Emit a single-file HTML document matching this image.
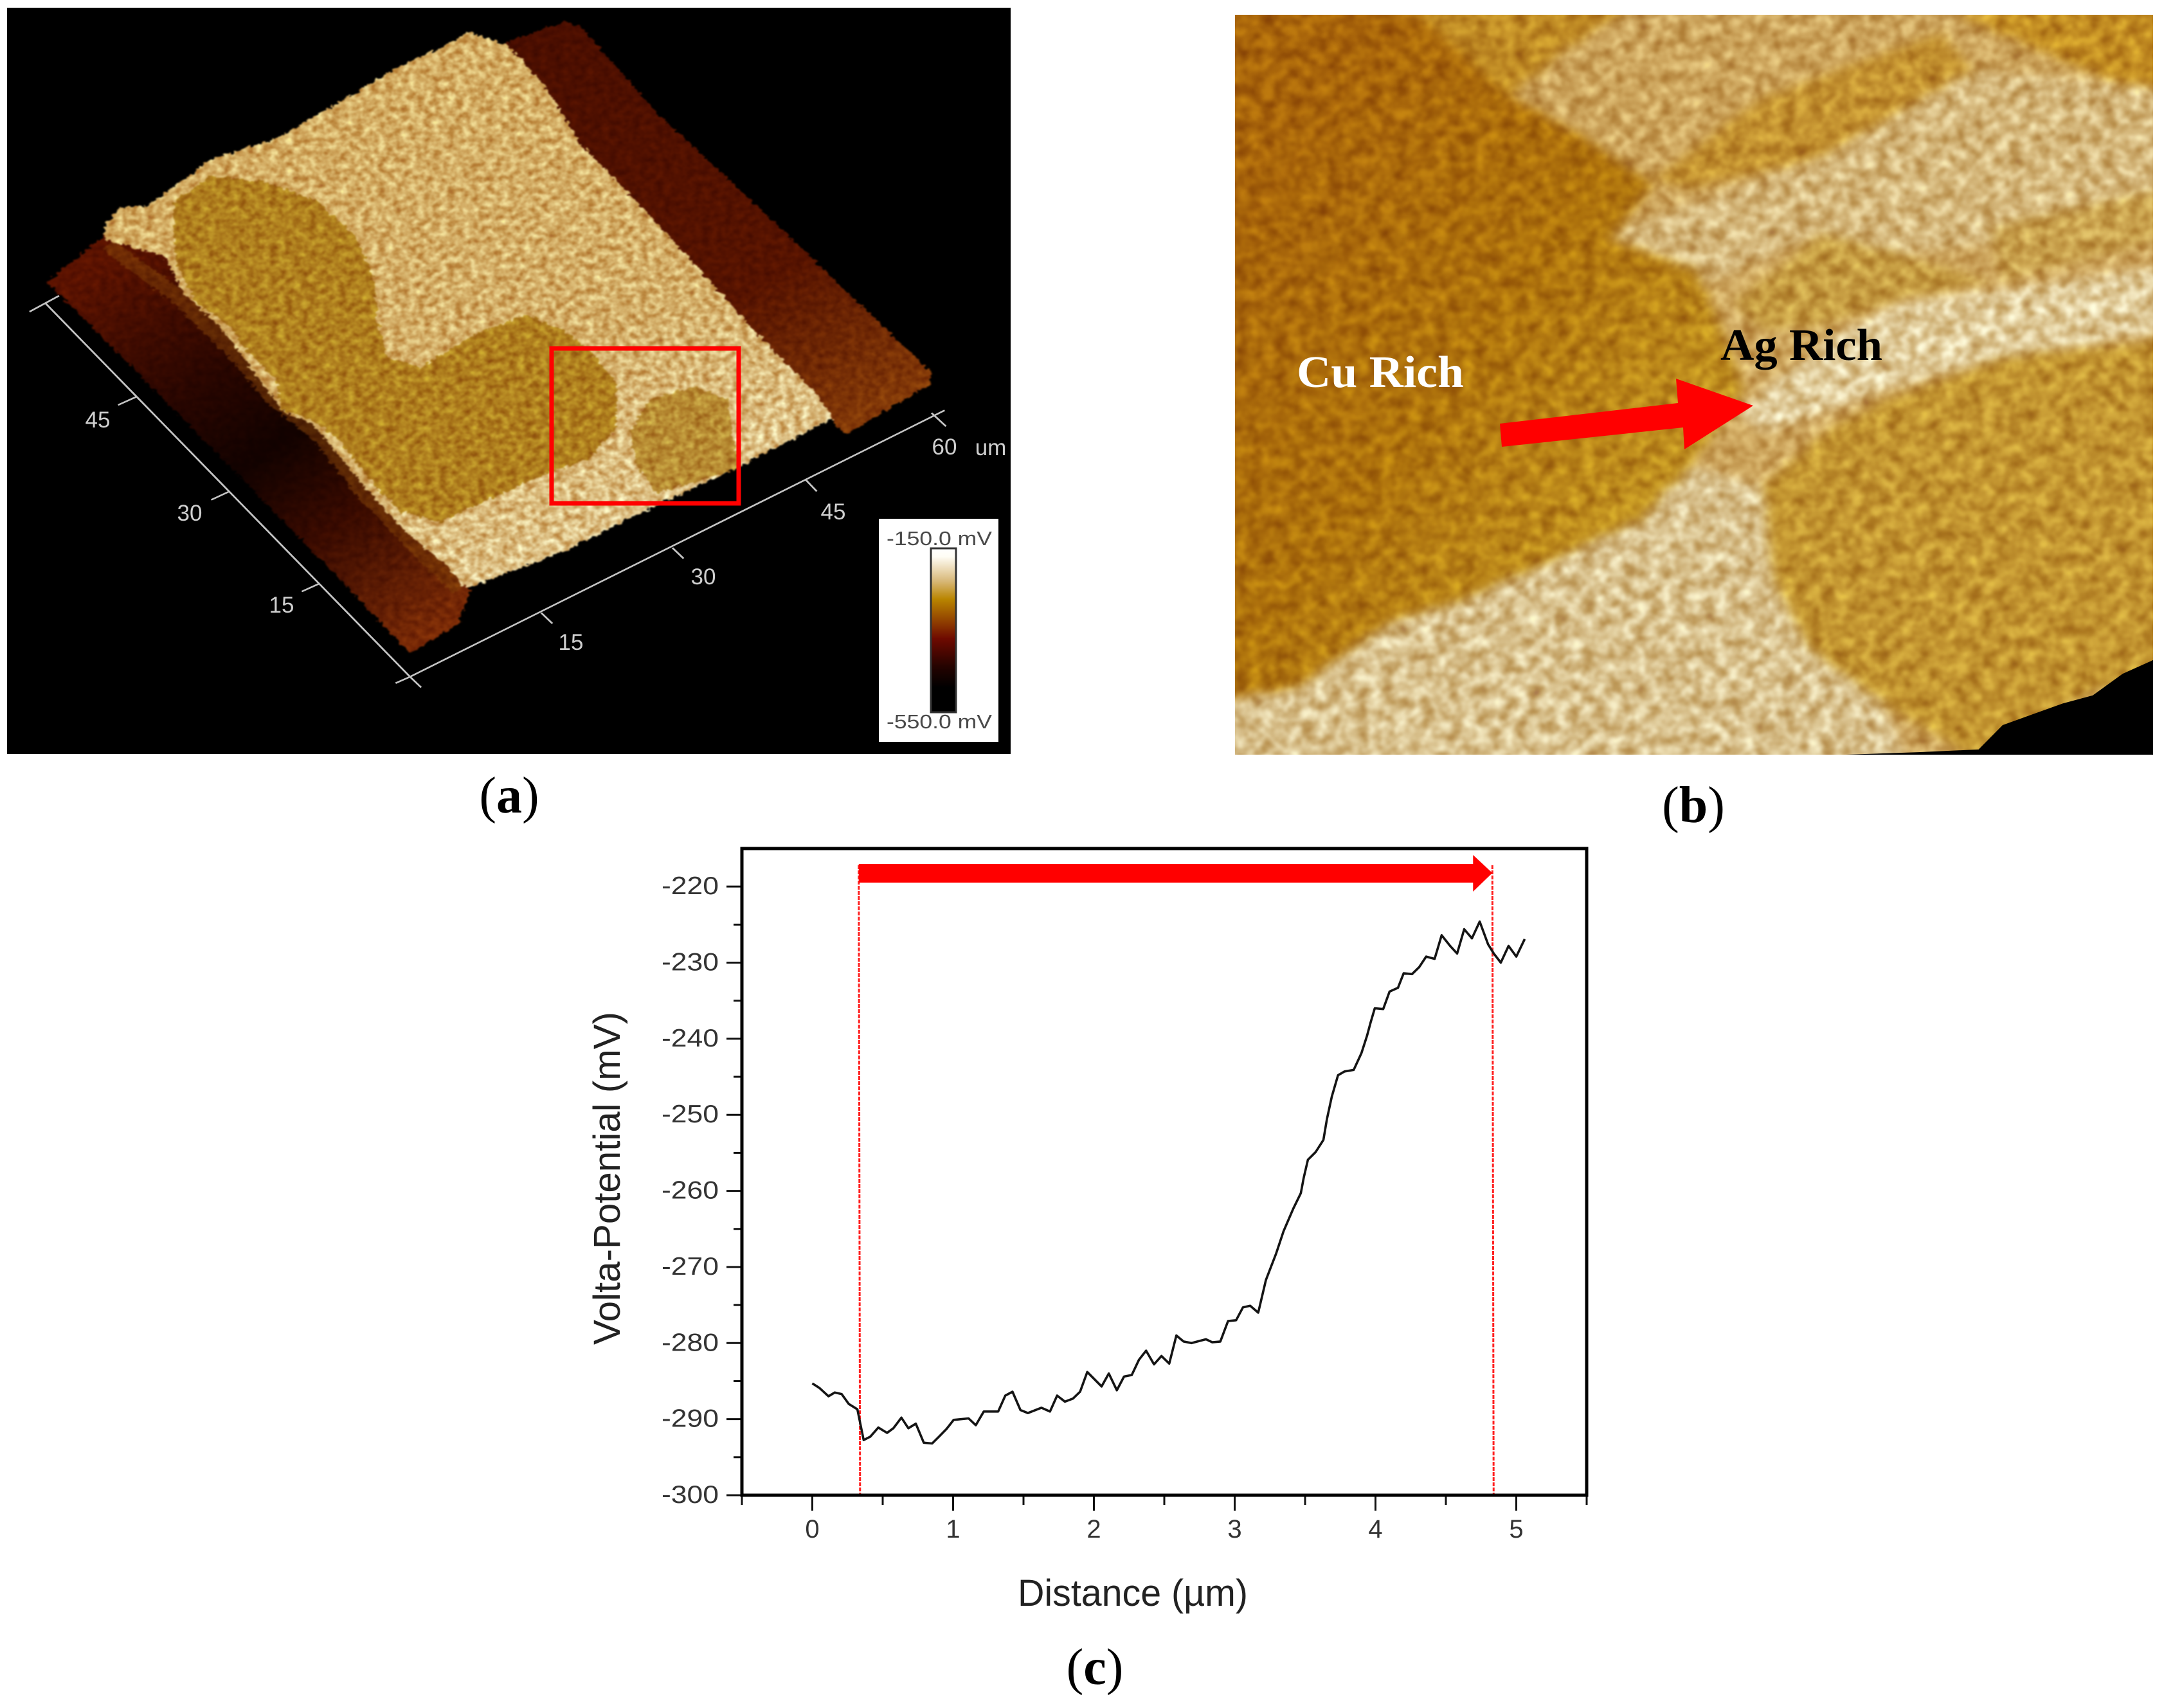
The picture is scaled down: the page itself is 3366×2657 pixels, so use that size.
<!DOCTYPE html>
<html lang="en">
<head>
<meta charset="utf-8">
<title>Volta potential map and line profile</title>
<style>
html,body{margin:0;padding:0;background:#fff;}
#figure{display:block;width:3366px;height:2657px;}
</style>
</head>
<body>
<svg id="figure" xmlns="http://www.w3.org/2000/svg" width="3366" height="2657" viewBox="0 0 3366 2657">
<defs>
<filter id="grain-a" filterUnits="userSpaceOnUse" x="-20" y="-20" width="1640" height="1520" color-interpolation-filters="sRGB">
<feTurbulence type="fractalNoise" baseFrequency="0.14" numOctaves="2" seed="5" result="edge"/>
<feDisplacementMap in="SourceGraphic" in2="edge" scale="13" xChannelSelector="R" yChannelSelector="G" result="d"/>
<feTurbulence type="fractalNoise" baseFrequency="0.085" numOctaves="3" seed="4" result="t"/>
<feColorMatrix in="t" type="matrix" values="0.5 0 0 0 0.25 1 0 0 0 0 1.8 0 0 0 -0.4 0 0 0 0 1" result="n"/>
<feComposite in="d" in2="n" operator="arithmetic" k1="1.05" k2="0.48" k3="0" k4="0" result="c"/>
<feGaussianBlur in="c" stdDeviation="1.4"/>
</filter>
<filter id="grain-b" filterUnits="userSpaceOnUse" x="-20" y="-20" width="1640" height="1700" color-interpolation-filters="sRGB">
<feTurbulence type="fractalNoise" baseFrequency="0.07" numOctaves="2" seed="12" result="edge"/>
<feDisplacementMap in="SourceGraphic" in2="edge" scale="18" xChannelSelector="R" yChannelSelector="G" result="d"/>
<feGaussianBlur in="d" stdDeviation="9" result="soft"/>
<feTurbulence type="fractalNoise" baseFrequency="0.045" numOctaves="3" seed="9" result="t"/>
<feColorMatrix in="t" type="matrix" values="0.6 0 0 0 0.2 1 0 0 0 0 1.8 0 0 0 -0.4 0 0 0 0 1" result="n"/>
<feComposite in="soft" in2="n" operator="arithmetic" k1="0.9" k2="0.55" k3="0" k4="0" result="c"/>
<feGaussianBlur in="c" stdDeviation="2.5"/>
</filter>
<linearGradient id="cliff-fill" gradientUnits="userSpaceOnUse" x1="100" y1="550" x2="650" y2="1200">
<stop offset="0" stop-color="#5a1200"/><stop offset="0.3" stop-color="#2a0600"/><stop offset="0.5" stop-color="#120200"/><stop offset="0.7" stop-color="#380a00"/><stop offset="1" stop-color="#7a2a06"/>
</linearGradient>
<linearGradient id="strip-fill" gradientUnits="userSpaceOnUse" x1="820" y1="70" x2="1340" y2="780">
<stop offset="0" stop-color="#4a0e00"/><stop offset="0.65" stop-color="#561300"/><stop offset="1" stop-color="#843a08"/>
</linearGradient>
<linearGradient id="surface-fill" gradientUnits="userSpaceOnUse" x1="500" y1="150" x2="1000" y2="1050">
<stop offset="0" stop-color="#d2ab62"/><stop offset="0.6" stop-color="#d2ad68"/><stop offset="1" stop-color="#dfc58e"/>
</linearGradient>
<linearGradient id="colorbar-fill" x1="0" y1="0" x2="0" y2="1">
<stop offset="0" stop-color="#ffffff"/><stop offset="0.05" stop-color="#fffdf5"/><stop offset="0.2" stop-color="#d8b878"/><stop offset="0.31" stop-color="#b98500"/><stop offset="0.45" stop-color="#8f3d00"/><stop offset="0.55" stop-color="#6f0a00"/><stop offset="0.72" stop-color="#250300"/><stop offset="0.85" stop-color="#000"/><stop offset="1" stop-color="#000"/>
</linearGradient>
<linearGradient id="cu-b-fill" gradientUnits="userSpaceOnUse" x1="60" y1="300" x2="800" y2="800">
<stop offset="0" stop-color="#a8640a"/><stop offset="0.55" stop-color="#ae720c"/><stop offset="1" stop-color="#c09020"/>
</linearGradient>
<clipPath id="panel-a-clip"><rect x="11" y="12" width="1561" height="1161"/></clipPath>
<clipPath id="panel-b-clip"><rect x="1921" y="23" width="1428" height="1151"/></clipPath>
</defs>

<rect width="3366" height="2657" fill="#ffffff"/>

<g clip-path="url(#panel-a-clip)">
<rect x="11" y="12" width="1561" height="1161" fill="#000"/>
<g transform="scale(1.0204,0.829)">
<g filter="url(#grain-a)">
<polygon fill="url(#strip-fill)" points="760,85 860,40 885,50 1000,210 1200,440 1420,700 1418,720 1290,815 1265,785 1235,740 1140,620 1000,430 875,270 820,160"/>
<polygon fill="url(#cliff-fill)" points="72,530 160,440 300,500 450,700 620,950 720,1090 700,1170 625,1225 450,1000 250,750"/>
<polyline fill="none" stroke="#7a3a06" stroke-width="26" opacity="0.6" points="165,460 270,555 350,650 420,750 490,820 560,930 630,1020 700,1105"/>
<polygon fill="url(#surface-fill)" points="160,420 185,390 225,385 320,300 420,260 520,190 600,130 670,90 715,60 775,85 830,160 885,270 1010,430 1150,620 1245,740 1270,785 1120,880 980,960 860,1035 710,1105 680,1060 620,1000 560,920 480,800 430,770 400,720 340,620 280,550 250,480 160,450"/>
<polygon fill="#ae7e1e" points="265,380 320,330 400,340 480,375 540,440 570,520 575,600 590,670 640,690 720,630 800,590 860,620 900,660 940,720 940,800 900,860 830,890 760,930 670,980 610,960 570,910 520,830 480,790 430,770 420,710 370,650 350,610 300,570 270,500 265,440"/>
<polygon fill="#b68a32" points="960,810 990,750 1060,725 1110,750 1125,880 1000,925 970,870"/>
</g>
</g>
<rect x="858" y="542" width="291" height="241" fill="none" stroke="#ff0000" stroke-width="7"/>
<g stroke="#c4c4c4" stroke-width="3" fill="none" transform="scale(1.0204,0.829)">
<path d="M70,570L625,1270"/>
<path d="M625,1270L1440,770"/>
<path d="M45,585L90,555M207,745L180,760M350,922L322,938M487,1095L460,1110M603,1282L625,1270L642,1290M825,1150L842,1170M1025,1028L1042,1048M1228,900L1245,922M1420,775L1442,800"/>
</g>
<g font-family="'Liberation Sans',sans-serif" font-size="35" fill="#cfcfcf" text-anchor="middle">
<text x="152" y="665">45</text>
<text x="295" y="810">30</text>
<text x="438" y="953">15</text>
<text x="888" y="1011">15</text>
<text x="1094" y="909">30</text>
<text x="1296" y="808">45</text>
<text x="1469" y="707">60</text>
<text x="1541" y="708">um</text>
</g>
<g>
<rect x="1367" y="807" width="186" height="347" fill="#fff"/>
<rect x="1448" y="853" width="39" height="255" fill="url(#colorbar-fill)" stroke="#333" stroke-width="3"/>
<text x="1379" y="848" font-family="'Liberation Sans',sans-serif" font-size="31" fill="#4a4a4a" textLength="164" lengthAdjust="spacingAndGlyphs">-150.0 mV</text>
<text x="1379" y="1133" font-family="'Liberation Sans',sans-serif" font-size="31" fill="#4a4a4a" textLength="164" lengthAdjust="spacingAndGlyphs">-550.0 mV</text>
</g>
</g>
<text x="792" y="1264" font-family="'Liberation Serif',serif" font-size="80" text-anchor="middle" fill="#000">(<tspan font-weight="bold">a</tspan>)</text>

<g clip-path="url(#panel-b-clip)">
<g transform="translate(1900,0) scale(0.9346,0.8418)">
<g filter="url(#grain-b)">
<rect x="-40" y="-40" width="1680" height="1540" fill="#cca45c"/>
<polygon fill="#bf8a24" points="-40,-40 760,-40 560,100 480,180 300,200"/>
<polygon fill="#c2902f" points="720,330 900,180 1200,60 1250,130 1000,290 780,350"/>
<polygon fill="#c28c22" points="1220,27 1640,-40 1640,170 1500,160 1400,110"/>
<polygon fill="#d4b67a" points="650,430 1000,290 1250,130 1640,170 1640,330 1280,450 1130,470 1000,430 860,500 800,520"/>
<polygon fill="#c49a40" points="850,560 1000,430 1130,470 1280,520 1150,550 1000,600 900,610"/>
<polygon fill="#c8a04c" points="1280,420 1640,330 1640,420 1300,520"/>
<polygon fill="#e0cb9a" points="860,760 1020,620 1130,560 1400,520 1640,480 1640,600 1300,660 1100,720 900,800"/>
<polygon fill="#d8c08c" points="-40,1310 130,1270 280,1150 600,1010 780,860 900,900 930,1100 1100,1300 1180,1500 -40,1500"/>
<polygon fill="#c29430" points="900,900 1000,800 1100,740 1300,660 1640,620 1640,1215 1450,1280 1250,1400 1100,1300 980,1200 920,1080"/>
<polygon fill="url(#cu-b-fill)" points="-40,-40 330,27 470,170 600,250 720,340 650,440 790,500 830,600 870,720 780,860 700,960 600,1010 400,1110 280,1150 130,1270 -40,1300"/>
</g>
<polygon fill="#000" points="1560,1215 1500,1245 1450,1285 1400,1300 1350,1320 1300,1340 1260,1385 1160,1390 1030,1395 1030,1420 1560,1420"/>
</g>
<polygon fill="#ff0000" points="2333,659 2610,627 2607,589 2727,631 2620,699 2618,665 2336,695"/>
<text x="2017" y="602" font-family="'Liberation Serif',serif" font-weight="bold" font-size="70" fill="#ffffff" textLength="260" lengthAdjust="spacingAndGlyphs">Cu Rich</text>
<text x="2676" y="560" font-family="'Liberation Serif',serif" font-weight="bold" font-size="70" fill="#000000" textLength="252" lengthAdjust="spacingAndGlyphs">Ag Rich</text>
</g>
<text x="2634" y="1279" font-family="'Liberation Serif',serif" font-size="80" text-anchor="middle" fill="#000">(<tspan font-weight="bold">b</tspan>)</text>

<g id="chart"></g>
<text x="1703" y="2620" font-family="'Liberation Serif',serif" font-size="80" text-anchor="middle" fill="#000">(<tspan font-weight="bold">c</tspan>)</text>
</svg>

<script>
const distance = [0,0.05,0.115,0.16,0.208,0.259,0.32,0.365,0.412,0.469,0.531,0.576,0.633,0.682,0.735,0.792,0.851,0.9,0.953,1.004,1.11,1.161,1.218,1.32,1.371,1.422,1.478,1.531,1.627,1.688,1.739,1.794,1.851,1.902,1.953,2.055,2.106,2.163,2.214,2.269,2.32,2.371,2.427,2.48,2.535,2.586,2.637,2.694,2.796,2.841,2.898,2.953,3.01,3.059,3.11,3.167,3.222,3.295,3.347,3.417,3.47,3.49,3.52,3.575,3.63,3.655,3.69,3.734,3.78,3.845,3.9,3.94,3.965,3.995,4.055,4.1,4.16,4.2,4.26,4.31,4.36,4.42,4.47,4.53,4.58,4.63,4.685,4.74,4.8,4.84,4.89,4.945,5,5.06];
const potential = [-285.3,-285.9,-287,-286.5,-286.7,-288,-288.7,-292.75,-292.3,-291.1,-291.8,-291.2,-289.8,-291.2,-290.6,-293.1,-293.2,-292.3,-291.3,-290.1,-289.9,-290.8,-289,-289,-286.9,-286.4,-288.8,-289.2,-288.5,-289,-286.9,-287.7,-287.3,-286.4,-283.8,-285.7,-284,-286.2,-284.4,-284.2,-282.2,-281,-282.8,-281.7,-282.7,-279,-279.8,-280,-279.5,-279.9,-279.8,-277.1,-277,-275.3,-275.1,-276,-271.7,-268.2,-265.3,-262.3,-260.3,-258.3,-255.9,-254.9,-253.3,-250.6,-247.6,-244.8,-244.3,-244.1,-241.9,-239.6,-237.9,-236,-236.1,-233.8,-233.3,-231.4,-231.5,-230.6,-229.2,-229.5,-226.4,-227.8,-228.8,-225.6,-226.8,-224.6,-227.6,-228.8,-230,-227.8,-229.2,-226.9];
const xTickValues = [0,1,2,3,4,5];
const xMinorValues = [0.5,1.5,2.5,3.5,4.5,5.5,-0.5];
const yTickValues = [-220,-230,-240,-250,-260,-270,-280,-290,-300];
const yMinorValues = [-225,-235,-245,-255,-265,-275,-285,-295];
const cursorPositions = [0.33,4.83];

const SVG_NS = 'http://www.w3.org/2000/svg';
const chart = document.getElementById('chart');
const frame = {left:1154, right:2468, top:1320, bottom:2326};
const xDomain = [-0.5,5.5];
const yDomain = [-300,-215];
function xScale(v){ return frame.left + (v - xDomain[0]) / (xDomain[1] - xDomain[0]) * (frame.right - frame.left); }
function yScale(v){ return frame.bottom - (v - yDomain[0]) / (yDomain[1] - yDomain[0]) * (frame.bottom - frame.top); }
function make(tag, attrs, text){
  const el = document.createElementNS(SVG_NS, tag);
  Object.keys(attrs).forEach(function(k){ el.setAttribute(k, attrs[k]); });
  if (text !== undefined) el.textContent = text;
  chart.appendChild(el);
  return el;
}
const SANS = "'Liberation Sans',sans-serif";

const plotBg = make('rect', {x:frame.left, y:frame.top, width:frame.right-frame.left, height:frame.bottom-frame.top, fill:'#fff'});



xMinorValues.forEach(function(v){
  const t = make('line', {x1:xScale(v), x2:xScale(v), y1:frame.bottom, y2:frame.bottom+15, stroke:'#111', 'stroke-width':3});
  
  
});
yMinorValues.forEach(function(v){
  const t = make('line', {x1:frame.left-13, x2:frame.left, y1:yScale(v), y2:yScale(v), stroke:'#111', 'stroke-width':3});
  
  
});
xTickValues.forEach(function(v){
  const t = make('line', {x1:xScale(v), x2:xScale(v), y1:frame.bottom, y2:frame.bottom+24, stroke:'#111', 'stroke-width':3});
  
  
  const l = make('text', {x:xScale(v), y:2392, 'font-family':SANS, 'font-size':40, fill:'#333', 'text-anchor':'middle'}, String(v));
  
  
});
yTickValues.forEach(function(v){
  const t = make('line', {x1:frame.left-24, x2:frame.left, y1:yScale(v), y2:yScale(v), stroke:'#111', 'stroke-width':3});
  
  
  const l = make('text', {x:1118, y:yScale(v)+12, 'font-family':SANS, 'font-size':39, fill:'#333', 'text-anchor':'end', textLength:89, lengthAdjust:'spacingAndGlyphs'}, String(v));
  
  
});

cursorPositions.forEach(function(v){
  const c = make('line', {x1:xScale(v), x2:xScale(v)+2, y1:1346, y2:frame.bottom, stroke:'#ff2020', 'stroke-width':3, 'stroke-dasharray':'6 2'});
  
  
});

const pts = distance.map(function(d,i){ return xScale(d).toFixed(1) + ',' + yScale(potential[i]).toFixed(1); }).join(' ');
const profile = make('polyline', {points:pts, fill:'none', stroke:'#141414', 'stroke-width':3.6, 'stroke-linejoin':'round'});



const ax0 = xScale(cursorPositions[0]);
const ax1 = xScale(cursorPositions[1]);
const arrowShape = make('polygon', {fill:'#ff0000', points:[ax0,1344, ax1-30,1344, ax1-30,1330, ax1,1358, ax1-30,1387, ax1-30,1373, ax0,1373].join(' ')});



const border = make('rect', {x:frame.left, y:frame.top, width:frame.right-frame.left, height:frame.bottom-frame.top, fill:'none', stroke:'#000', 'stroke-width':5});



const xTitle = make('text', {x:1762, y:2498, 'font-family':SANS, 'font-size':58, fill:'#222', 'text-anchor':'middle', textLength:358, lengthAdjust:'spacingAndGlyphs'}, 'Distance (\u00b5m)');


const yTitle = make('text', {transform:'translate(964,1833) rotate(-90)', 'font-family':SANS, 'font-size':58, fill:'#222', 'text-anchor':'middle', textLength:518, lengthAdjust:'spacingAndGlyphs'}, 'Volta-Potential (mV)');


</script>
</body>
</html>
